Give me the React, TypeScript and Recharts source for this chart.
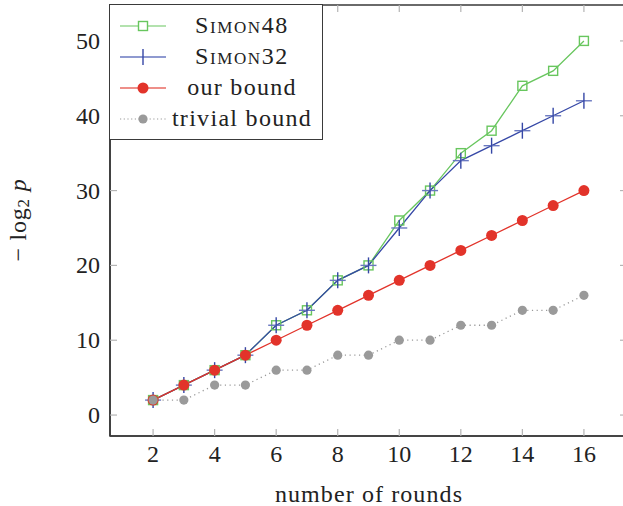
import React from 'react';
import { LineChart, Line, XAxis, YAxis, Legend, ReferenceArea } from 'recharts';

const rounds = [2, 3, 4, 5, 6, 7, 8, 9, 10, 11, 12, 13, 14, 15, 16];
const simon48 = [2, 4, 6, 8, 12, 14, 18, 20, 26, 30, 35, 38, 44, 46, 50];
const simon32 = [2, 4, 6, 8, 12, 14, 18, 20, 25, 30, 34, 36, 38, 40, 42];
const ourBound = [2, 4, 6, 8, 10, 12, 14, 16, 18, 20, 22, 24, 26, 28, 30];
const trivialBound = [2, 2, 4, 4, 6, 6, 8, 8, 10, 10, 12, 12, 14, 14, 16];
const xTicks = [2, 4, 6, 8, 10, 12, 14, 16];
const yTicks = [0, 10, 20, 30, 40, 50];
const xDomain: [number, number] = [0.6, 17.4];
const yDomain: [number, number] = [-2.8, 54.8];

const data = rounds.map((r, i) => ({
  r,
  s48: simon48[i],
  s32: simon32[i],
  our: ourBound[i],
  triv: trivialBound[i],
}));

const FONT = '"Liberation Serif", "DejaVu Serif", serif';
const GREEN = '#68c65e';
const BLUE = '#3547a6';
const RED = '#e2332a';
const GRAY = '#9a9a9a';
const TICK = '#b4b4b4';
const FRAME = '#3a3a3a';

const PLOT_LEFT = 110;
const PLOT_RIGHT = 627;
const PLOT_TOP = 5;
const PLOT_BOTTOM = 436;
const TL = 7;

const XTick = (props: any) => {
  const { x, y, payload } = props;
  return (
    <g>
      <line x1={x} x2={x} y1={PLOT_BOTTOM} y2={PLOT_BOTTOM - TL} stroke={TICK} strokeWidth={1.2} />
      <line x1={x} x2={x} y1={PLOT_TOP} y2={PLOT_TOP + TL} stroke={TICK} strokeWidth={1.2} />
      <text x={x} y={y + 18} textAnchor="middle" dominantBaseline="central" fontFamily={FONT} fontSize={24} fill="#222">
        {payload.value}
      </text>
    </g>
  );
};

const YTick = (props: any) => {
  const { x, y, payload } = props;
  return (
    <g>
      <line x1={PLOT_LEFT} x2={PLOT_LEFT + TL} y1={y} y2={y} stroke={TICK} strokeWidth={1.2} />
      <line x1={PLOT_RIGHT} x2={PLOT_RIGHT - TL} y1={y} y2={y} stroke={TICK} strokeWidth={1.2} />
      <text x={x - 10} y={y} textAnchor="end" dominantBaseline="central" fontFamily={FONT} fontSize={24} fill="#222">
        {payload.value}
      </text>
    </g>
  );
};

const SquareDot = (props: any) => {
  const { cx, cy, index } = props;
  return <rect key={`s${index}`} x={cx - 4.5} y={cy - 4.5} width={9} height={9} fill="none" stroke={GREEN} strokeWidth={1.4} />;
};
const PlusDot = (props: any) => {
  const { cx, cy, index } = props;
  return (
    <g key={`p${index}`}>
      <line x1={cx - 8} x2={cx + 8} y1={cy} y2={cy} stroke="#6a78c0" strokeWidth={1.4} />
      <line x1={cx} x2={cx} y1={cy - 8} y2={cy + 8} stroke={BLUE} strokeWidth={1.4} />
    </g>
  );
};
const RedDot = (props: any) => {
  const { cx, cy, index } = props;
  return <circle key={`r${index}`} cx={cx} cy={cy} r={5.5} fill={RED} />;
};
const GrayDot = (props: any) => {
  const { cx, cy, index } = props;
  return <circle key={`g${index}`} cx={cx} cy={cy} r={4.6} fill={GRAY} />;
};

const legendItems = [
  { label: 'Simon48', kind: 's48', smallCaps: true },
  { label: 'Simon32', kind: 's32', smallCaps: true },
  { label: 'our bound', kind: 'our', smallCaps: false },
  { label: 'trivial bound', kind: 'triv', smallCaps: false },
];

const Sample = ({ kind }: { kind: string }) => {
  const y = 10;
  const cx = 33;
  return (
    <svg width={58} height={20} style={{ display: 'block' }}>
      {kind === 's48' && (
        <g>
          <line x1={10} x2={56} y1={y} y2={y} stroke={GREEN} strokeWidth={1.2} />
          <rect x={cx - 4.5} y={y - 4.5} width={9} height={9} fill="white" stroke={GREEN} strokeWidth={1.4} />
        </g>
      )}
      {kind === 's32' && (
        <g>
          <line x1={10} x2={56} y1={y} y2={y} stroke="#6a78c0" strokeWidth={1.4} />
          <line x1={cx} x2={cx} y1={y - 8} y2={y + 8} stroke={BLUE} strokeWidth={1.4} />
        </g>
      )}
      {kind === 'our' && (
        <g>
          <line x1={10} x2={56} y1={y} y2={y} stroke="#e86a62" strokeWidth={1.4} />
          <circle cx={cx} cy={y} r={5.5} fill={RED} />
        </g>
      )}
      {kind === 'triv' && (
        <g>
          <line x1={10} x2={56} y1={y} y2={y} stroke={GRAY} strokeWidth={1.2} strokeDasharray="1.2 2.5" />
          <circle cx={cx} cy={y} r={4.6} fill={GRAY} />
        </g>
      )}
    </svg>
  );
};

const LegendBox = () => (
  <div
    style={{
      width: 214,
      height: 136,
      boxSizing: 'border-box',
      border: `1.6px solid ${FRAME}`,
      background: 'white',
      paddingTop: 5,
      fontFamily: FONT,
      fontSize: 24,
      color: '#222',
    }}
  >
    {legendItems.map((it) => (
      <div key={it.kind} style={{ display: 'flex', alignItems: 'center', height: 31 }}>
        <Sample kind={it.kind} />
        <div
          style={{
            flex: 1,
            textAlign: 'center',
            paddingRight: 6,
            letterSpacing: it.smallCaps ? 1.6 : 1.3,
            fontVariant: it.smallCaps ? 'small-caps' : 'normal',
            whiteSpace: 'nowrap',
          }}
        >
          {it.label}
        </div>
      </div>
    ))}
  </div>
);

export default function App() {
  return (
    <div style={{ position: 'absolute', left: 0, top: 0, width: 623, height: 506, overflow: 'hidden', background: 'white' }}>
      <LineChart width={640} height={506} data={data} margin={{ top: PLOT_TOP, right: 640 - PLOT_RIGHT, bottom: 0, left: 0 }}>
        <XAxis
          dataKey="r"
          type="number"
          domain={xDomain}
          ticks={xTicks}
          allowDataOverflow
          height={506 - PLOT_BOTTOM}
          tickSize={0}
          tickMargin={0}
          tickLine={false}
          axisLine={{ stroke: FRAME, strokeWidth: 1.6 }}
          tick={<XTick />}
          interval={0}
          label={(p: any) => (
            <text x={369} y={494} textAnchor="middle" dominantBaseline="central" fontFamily={FONT} fontSize={24} letterSpacing={1.1} fill="#222">
              number of rounds
            </text>
          )}
        />
        <YAxis
          type="number"
          domain={yDomain}
          ticks={yTicks}
          allowDataOverflow
          width={PLOT_LEFT}
          tickSize={0}
          tickMargin={0}
          tickLine={false}
          axisLine={{ stroke: FRAME, strokeWidth: 1.6 }}
          tick={<YTick />}
          interval={0}
          label={(p: any) => (
            <text
              x={18}
              y={220}
              transform="rotate(-90, 18, 220)"
              textAnchor="middle"
              dominantBaseline="central"
              fontFamily={FONT}
              fontSize={24}
              letterSpacing={0.8}
              fill="#222"
            >
              {'− log'}
              <tspan fontSize={17} dy={5}>2</tspan>
              <tspan dy={-5}> </tspan>
              <tspan fontStyle="italic">p</tspan>
            </text>
          )}
        />
        <ReferenceArea x1={xDomain[0]} x2={xDomain[1]} y1={yDomain[0]} y2={yDomain[1]} fill="none" stroke={FRAME} strokeWidth={1.6} ifOverflow="visible" />
        <Line dataKey="s48" stroke={GREEN} strokeWidth={1.3} dot={<SquareDot />} activeDot={false} isAnimationActive={false} />
        <Line dataKey="s32" stroke={BLUE} strokeWidth={1.3} dot={<PlusDot />} activeDot={false} isAnimationActive={false} />
        <Line dataKey="our" stroke={RED} strokeWidth={1.3} dot={<RedDot />} activeDot={false} isAnimationActive={false} />
        <Line dataKey="triv" stroke={GRAY} strokeWidth={1.3} strokeDasharray="1.2 3.5" dot={<GrayDot />} activeDot={false} isAnimationActive={false} />
        <Legend
          layout="vertical"
          align="center"
          verticalAlign="middle"
          content={<LegendBox />}
          wrapperStyle={{ left: PLOT_LEFT - 1, top: PLOT_TOP - 1, width: 214, height: 136 }}
        />
      </LineChart>
    </div>
  );
}
